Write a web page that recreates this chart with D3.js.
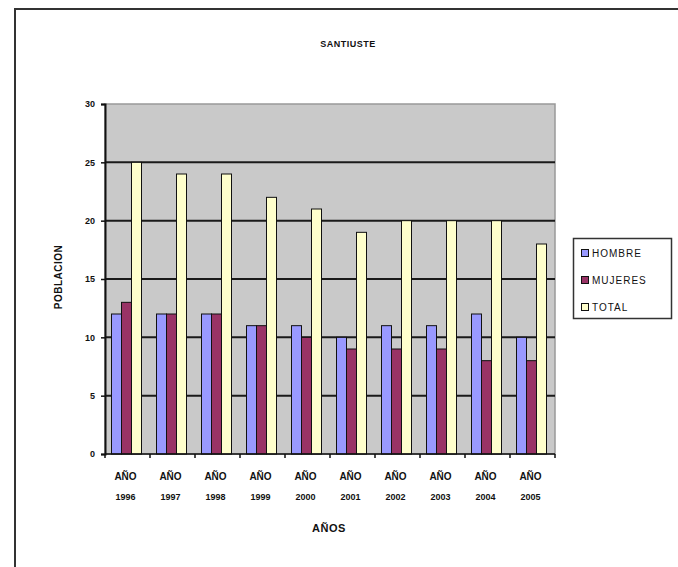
<!DOCTYPE html>
<html>
<head>
<meta charset="utf-8">
<script src="https://cdn.jsdelivr.net/npm/d3@7"></script>
<style>
  html, body { margin: 0; padding: 0; background: #fff; }
  svg { display: block; }
  text { font-family: "Liberation Sans", Arial, sans-serif; font-weight: bold; fill: #111; }
</style>
</head>
<body>
<script>
const categories = ["AÑO 1996","AÑO 1997","AÑO 1998","AÑO 1999","AÑO 2000","AÑO 2001","AÑO 2002","AÑO 2003","AÑO 2004","AÑO 2005"];
const seriesNames = ["HOMBRE","MUJERES","TOTAL"];
const hombre  = [12,12,12,11,11,10,11,11,12,10];
const mujeres = [13,12,12,11,10, 9, 9, 9, 8, 8];
const total   = [25,24,24,22,21,19,20,20,20,18];
const yTicks  = [0,5,10,15,20,25,30];
const seriesColors = ["#9999FF","#993366","#FFFFCC"];
const title = "SANTIUSTE";
const xTitle = "AÑOS";
const yTitle = "POBLACION";

const W = 678, H = 567;
const svg = d3.select("body").append("svg").attr("width", W).attr("height", H);

// outer frame (left and top edges visible)
svg.append("path").attr("d", `M15,${H} V9 H${W}`).attr("fill","none").attr("stroke","#333").attr("stroke-width",2);

const plot = {left:105, right:555, top:104, bottom:454};
const y = d3.scaleLinear().domain([0,30]).range([plot.bottom, plot.top]);
const x = d3.scaleBand().domain(categories).range([plot.left, plot.right]).paddingInner(0).paddingOuter(0);
const xs = d3.scaleBand().domain(seriesNames).range([0, x.bandwidth()]).paddingInner(0).paddingOuter(0.75);

// plot background
svg.append("rect").attr("x", plot.left).attr("y", plot.top)
  .attr("width", plot.right - plot.left).attr("height", plot.bottom - plot.top)
  .attr("fill", "#c9c9c9").attr("stroke", "#999").attr("stroke-width", 1.5);

// gridlines
svg.append("g").selectAll("line").data(yTicks.filter(d => d > 0 && d < 30)).join("line")
  .attr("x1", plot.left).attr("x2", plot.right)
  .attr("y1", d => y(d)).attr("y2", d => y(d))
  .attr("stroke", "#1a1a1a").attr("stroke-width", 2);

// bars
const seriesData = [hombre, mujeres, total];
seriesData.forEach((vals, si) => {
  svg.append("g").selectAll("rect").data(vals).join("rect")
    .attr("x", (d, i) => x(categories[i]) + xs(seriesNames[si]) - 1)
    .attr("y", d => y(d))
    .attr("width", xs.bandwidth())
    .attr("height", d => y(0) - y(d))
    .attr("fill", seriesColors[si])
    .attr("stroke", "#111").attr("stroke-width", 1);
});

// y axis
const yAxis = svg.append("g").attr("transform", `translate(${plot.left},0)`)
  .call(d3.axisLeft(y).tickValues(yTicks).tickSize(4).tickPadding(6));
yAxis.select(".domain").attr("stroke", "#111").attr("stroke-width", 2);
yAxis.selectAll(".tick line").attr("stroke", "#111").attr("stroke-width", 1.5);
yAxis.selectAll("text").style("font-size", "9px").style("font-weight", "bold")
  .style("font-family", "'Liberation Sans', Arial, sans-serif").attr("fill", "#111");

// x axis
const xAxisG = svg.append("g").attr("transform", `translate(0,${plot.bottom})`);
xAxisG.append("line").attr("x1", plot.left).attr("x2", plot.right).attr("y1", 0).attr("y2", 0)
  .attr("stroke", "#111").attr("stroke-width", 1.5);
const boundaries = categories.map(c => x(c)).concat([plot.right]);
xAxisG.selectAll("line.tk").data(boundaries).join("line").attr("class","tk")
  .attr("x1", d => d).attr("x2", d => d).attr("y1", 0).attr("y2", 4)
  .attr("stroke", "#111").attr("stroke-width", 1.5);
const labs = xAxisG.selectAll("text.cat").data(categories).join("text").attr("class","cat")
  .attr("text-anchor", "middle").style("font-size", "10px");
labs.append("tspan").attr("x", d => x(d) + x.bandwidth()/2 - 2).attr("y", 26).text(d => d.split(" ")[0]);
labs.append("tspan").attr("x", d => x(d) + x.bandwidth()/2 - 2).attr("y", 46).style("font-size","9px").text(d => d.split(" ")[1]);

// titles
svg.append("text").attr("x", 348).attr("y", 47).attr("text-anchor", "middle")
  .style("font-size", "9px").style("letter-spacing", "0.5px").text(title);
svg.append("text").attr("x", 329).attr("y", 532).attr("text-anchor", "middle")
  .style("font-size", "11px").style("letter-spacing", "0.5px").text(xTitle);
svg.append("text").attr("transform", "translate(62,277) rotate(-90)").attr("text-anchor", "middle")
  .style("font-size", "10px").style("letter-spacing", "0.5px").text(yTitle);

// legend
const lg = svg.append("g");
lg.append("rect").attr("x", 573.5).attr("y", 238.5).attr("width", 98).attr("height", 80)
  .attr("fill", "#fff").attr("stroke", "#333").attr("stroke-width", 1.5);
const rowsY = [253, 280, 307];
seriesNames.forEach((s, i) => {
  lg.append("rect").attr("x", 581.5).attr("y", rowsY[i] - 3.5).attr("width", 7).attr("height", 7)
    .attr("fill", seriesColors[i]).attr("stroke", "#111").attr("stroke-width", 1);
  lg.append("text").attr("x", 592).attr("y", rowsY[i] + 4).style("font-size", "10px")
    .style("font-weight", "normal").style("letter-spacing", "1px").text(s);
});
</script>
</body>
</html>
